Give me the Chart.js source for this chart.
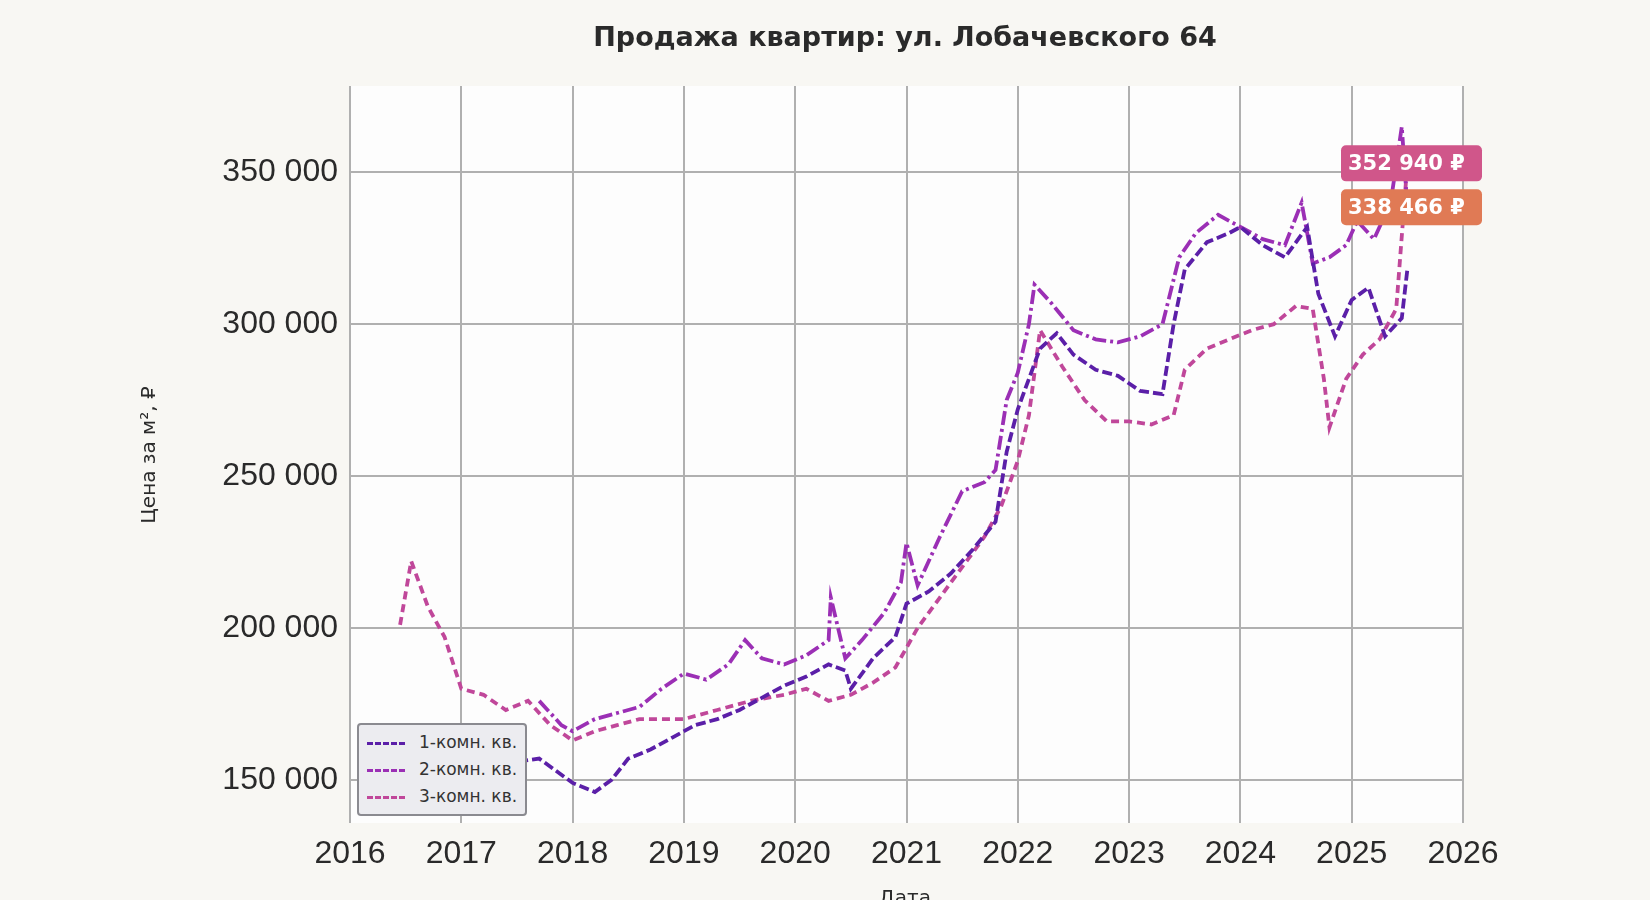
<!DOCTYPE html>
<html><head><meta charset="utf-8">
<script src="https://cdn.jsdelivr.net/npm/chart.js@4/dist/chart.umd.min.js"></script>
<style>
body{margin:0;background:#f8f7f3;font-family:"DejaVu Sans",sans-serif}
#wrap{position:relative;width:1650px;height:900px;overflow:hidden}
#lg{position:absolute;left:357px;top:723px;background:#ececf0;border:2px solid #8a8a90;border-radius:4px;padding:4px 8px;font-size:17px;color:#333;line-height:27px}
#lg span{display:inline-block;width:38px;height:0;border-top:3px dashed;vertical-align:middle;margin-right:14px}
</style></head><body>
<div id="wrap"><canvas id="c" width="1650" height="900"></canvas>
<div id="lg"><div><span style="border-color:#5b1fa8"></span>1-комн. кв.</div><div><span style="border-color:#9b2fb5"></span>2-комн. кв.</div><div><span style="border-color:#c0479a"></span>3-комн. кв.</div></div></div>
<script>
const seriesNames=["1-комн. кв.","2-комн. кв.","3-комн. кв."];
const x1=[2016.45,2016.6,2016.8,2017.0,2017.3,2017.5,2017.7,2017.85,2018.0,2018.2,2018.35,2018.5,2018.7,2018.9,2019.1,2019.3,2019.5,2019.7,2019.9,2020.1,2020.3,2020.45,2020.5,2020.7,2020.9,2021.0,2021.2,2021.4,2021.6,2021.8,2021.9,2022.0,2022.2,2022.35,2022.5,2022.7,2022.9,2023.1,2023.3,2023.4,2023.5,2023.7,2023.9,2024.0,2024.2,2024.4,2024.6,2024.7,2024.85,2025.0,2025.15,2025.3,2025.45,2025.5];
const y1=[168000,168000,163000,160000,157000,156000,157000,153000,149000,146000,150000,157000,160000,164000,168000,170000,173000,177000,181000,184000,188000,186000,180000,190000,197000,208000,212000,218000,226000,235000,258000,272000,292000,297000,290000,285000,283000,278000,277000,300000,318000,327000,330000,332000,326000,322000,332000,310000,296000,308000,312000,296000,302000,318000];
const x2=[2017.7,2017.9,2018.0,2018.2,2018.4,2018.6,2018.8,2019.0,2019.2,2019.4,2019.55,2019.7,2019.9,2020.1,2020.3,2020.32,2020.45,2020.6,2020.8,2020.95,2021.0,2021.1,2021.3,2021.5,2021.7,2021.8,2021.9,2022.0,2022.1,2022.15,2022.3,2022.5,2022.7,2022.9,2023.1,2023.3,2023.45,2023.6,2023.8,2024.0,2024.2,2024.4,2024.55,2024.65,2024.8,2024.95,2025.05,2025.2,2025.35,2025.45,2025.5];
const y2=[176000,168000,166000,170000,172000,174000,180000,185000,183000,188000,196000,190000,188000,191000,196000,210000,190000,196000,205000,215000,228000,214000,230000,245000,248000,252000,275000,284000,300000,313000,307000,298000,295000,294000,296000,300000,322000,330000,336000,332000,328000,326000,340000,320000,322000,326000,334000,328000,340000,365000,338466];
const x3=[2016.45,2016.55,2016.7,2016.85,2017.0,2017.2,2017.4,2017.6,2017.8,2018.0,2018.2,2018.4,2018.6,2018.8,2019.0,2019.3,2019.6,2019.9,2020.1,2020.3,2020.5,2020.7,2020.9,2021.1,2021.3,2021.5,2021.7,2021.85,2022.0,2022.1,2022.2,2022.4,2022.6,2022.8,2023.0,2023.2,2023.4,2023.5,2023.7,2023.9,2024.1,2024.3,2024.5,2024.65,2024.75,2024.8,2024.95,2025.1,2025.25,2025.4,2025.5];
const y3=[201000,222000,207000,197000,180000,178000,173000,176000,168000,163000,166000,168000,170000,170000,170000,173000,176000,178000,180000,176000,178000,182000,187000,200000,210000,220000,230000,240000,255000,270000,298000,286000,275000,268000,268000,267000,270000,285000,292000,295000,298000,300000,306000,305000,282000,266000,282000,290000,295000,305000,352940];
const endLabels=[352940,338466];
const xTicks=[2016,2017,2018,2019,2020,2021,2022,2023,2024,2025,2026];
const yTicks=[150000,200000,250000,300000,350000];
const pts=(xs,ys)=>xs.map((v,i)=>({x:v,y:ys[i]}));
const fmt=v=>String(v).replace(/\B(?=(\d{3})+(?!\d))/g,' ');
const bg={id:'bg',beforeDraw(c){const a=c.chartArea,g=c.ctx;g.save();g.fillStyle='#fdfdfd';g.fillRect(a.left,a.top,a.right-a.left,a.bottom-a.top);g.restore();},
afterDraw(c){const g=c.ctx,ys=c.scales.y;g.save();g.font='bold 27px "DejaVu Sans"';g.fillStyle='#2a2a2a';g.textAlign='center';g.fillText('Продажа квартир: ул. Лобачевского 64',905,46);
g.font='20px "DejaVu Sans"';g.textBaseline='top';g.fillText('Дата',905,889);
g.save();g.translate(150,455);g.rotate(-Math.PI/2);g.textBaseline='middle';g.fillText('Цена за м², ₽',0,0);g.restore();
const cols=['#d0568a','#e07a55'];g.font='bold 21px "DejaVu Sans"';g.textBaseline='middle';
endLabels.forEach((v,i)=>{const y=ys.getPixelForValue(v);g.fillStyle=cols[i];g.beginPath();g.roundRect(1341,y-18,141,36,5);g.fill();g.fillStyle='#fff';g.textAlign='left';g.fillText(fmt(v)+' ₽',1348,y+1);});g.restore();}};
new Chart(document.getElementById('c'),{type:'line',
data:{datasets:[
{label:seriesNames[0],data:pts(x1,y1),borderColor:'#5b1fa8',borderDash:[10,4],borderWidth:3.8,pointRadius:0,tension:0},
{label:seriesNames[1],data:pts(x2,y2),borderColor:'#9b2fb5',borderDash:[14,4,3,4],borderWidth:3.8,pointRadius:0,tension:0},
{label:seriesNames[2],data:pts(x3,y3),borderColor:'#c0479a',borderDash:[8,5],borderWidth:3.8,pointRadius:0,tension:0}]},
options:{responsive:false,animation:false,layout:{padding:{top:86,right:187,left:0,bottom:0}},
plugins:{legend:{display:false},tooltip:{enabled:false}},
scales:{x:{type:'linear',min:2016,max:2026,afterBuildTicks:a=>{a.ticks=xTicks.map(v=>({value:v}))},afterFit:a=>{a.height=77},
ticks:{font:{size:32},color:'#2a2a2a',callback:v=>String(v),maxRotation:0,padding:12},
grid:{color:'#b0b0b0',lineWidth:2,drawTicks:false},border:{display:false}},
y:{min:135800,max:378400,afterBuildTicks:a=>{a.ticks=yTicks.map(v=>({value:v}))},afterFit:a=>{a.width=350},
ticks:{font:{size:32},color:'#2a2a2a',callback:v=>fmt(v),padding:12},
grid:{color:'#b0b0b0',lineWidth:2,drawTicks:false},border:{display:false}}}},
plugins:[bg]});
</script></body></html>
